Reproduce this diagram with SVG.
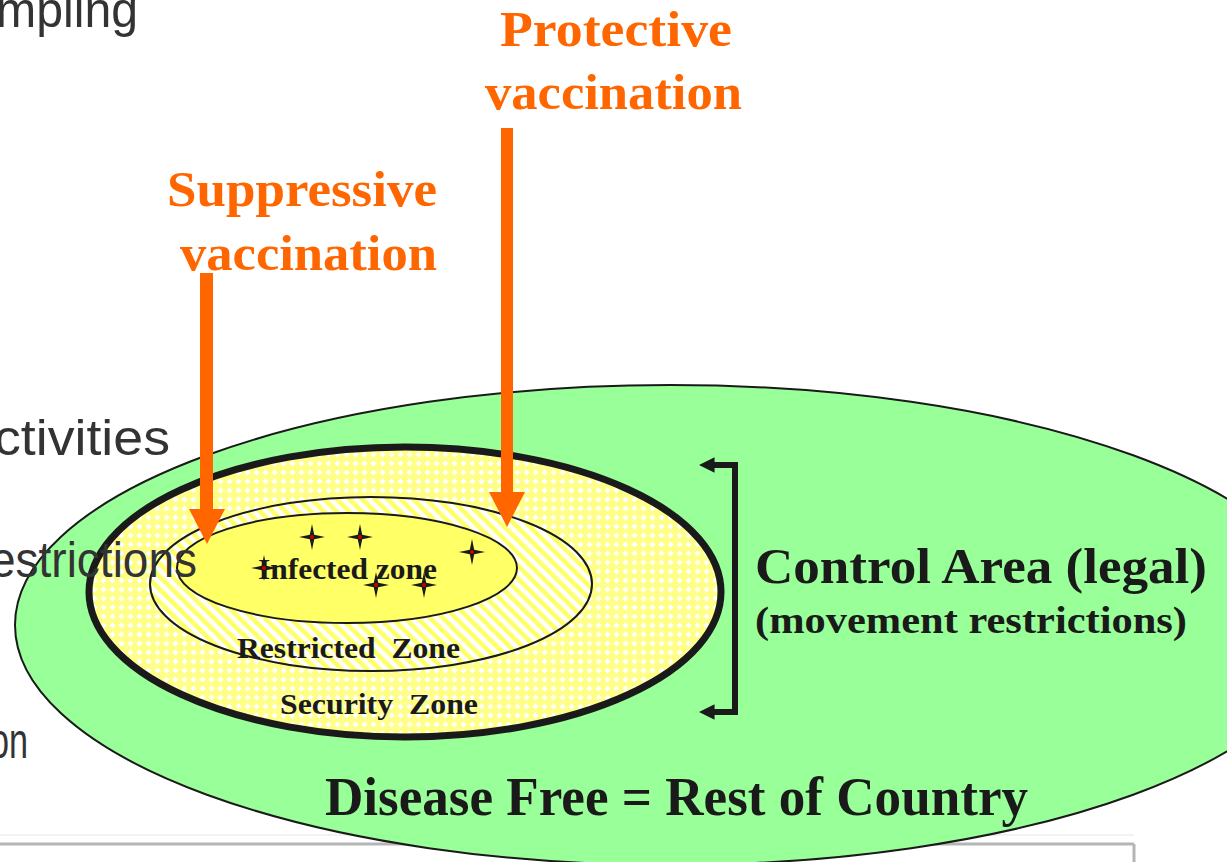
<svg xmlns="http://www.w3.org/2000/svg" width="1227" height="862" viewBox="0 0 1227 862">
<style>
.bg{font-family:"Liberation Sans",Arial,sans-serif;font-size:50px;fill:#333333}
.or{font-family:"Liberation Serif","Times New Roman",serif;font-weight:bold;font-size:51px;fill:#ff6600}
.bk{font-family:"Liberation Serif","Times New Roman",serif;font-weight:bold;fill:#1a1a1a;white-space:pre}
.star{fill:#1a1a1a}
.dot{fill:#cc0000}
.arrow{fill:#ff6600}
</style>
<defs>
<pattern id="cross" width="9" height="9" patternUnits="userSpaceOnUse">
<rect width="9" height="9" fill="#ffff88"/>
<path d="M4.5,1.5 L7.5,4.5 L4.5,7.5 L1.5,4.5 Z" fill="#ffffff"/>
</pattern>
<pattern id="stripe" width="9" height="9" patternUnits="userSpaceOnUse" patternTransform="rotate(-45)">
<rect width="9" height="9" fill="#ffffff"/>
<rect width="4.5" height="9" fill="#ffff66"/>
</pattern>
<g id="star">
<path class="star" d="M0,-13 L2.2,-2.2 L13,0 L2.2,2.2 L0,13 L-2.2,2.2 L-13,0 L-2.2,-2.2 Z"/>
<circle class="dot" r="2"/>
</g>
<marker id="ah" viewBox="0 0 10 10" refX="1" refY="5" markerWidth="2.6" markerHeight="2.8" orient="auto-start-reverse" markerUnits="strokeWidth">
<path d="M0,0 L10,5 L0,10 Z" fill="#1a1a1a"/>
</marker>
</defs>

<g id="slide-frame">
<line x1="0" y1="835" x2="1134" y2="835" stroke="#f2f2f2" stroke-width="2"/>
<line x1="0" y1="844" x2="1134" y2="844" stroke="#b5b5b5" stroke-width="3"/>
<line x1="1134" y1="844" x2="1134" y2="862" stroke="#b5b5b5" stroke-width="3"/>
</g>

<g id="disease-free">
<ellipse cx="670" cy="625" rx="655" ry="240" fill="#99ff99" stroke="#1a1a1a" stroke-width="2"/>
<text class="bk" x="325" y="815" font-size="54" textLength="703" lengthAdjust="spacingAndGlyphs">Disease Free = Rest of Country</text>
</g>

<g id="control-area">
<ellipse cx="405" cy="592" rx="316" ry="145" fill="url(#cross)" stroke="#1a1a1a" stroke-width="7"/>
<text class="bk" x="280" y="714" font-size="30" textLength="198" lengthAdjust="spacingAndGlyphs">Security  Zone</text>
</g>

<g id="restricted-zone">
<ellipse cx="371" cy="584" rx="221" ry="87" fill="url(#stripe)" stroke="#1a1a1a" stroke-width="2"/>
<text class="bk" x="237" y="658" font-size="30" textLength="223" lengthAdjust="spacingAndGlyphs">Restricted  Zone</text>
</g>

<g id="infected-zone">
<ellipse cx="347" cy="568" rx="170" ry="55" fill="#ffff66" stroke="#1a1a1a" stroke-width="2"/>
<text class="bk" x="258" y="579" font-size="30" textLength="179" lengthAdjust="spacingAndGlyphs">Infected zone</text>
<use href="#star" x="312" y="537"/>
<use href="#star" x="360" y="537"/>
<use href="#star" x="472" y="552"/>
<use href="#star" x="264" y="568"/>
<use href="#star" x="376" y="585"/>
<use href="#star" x="424" y="585"/>
</g>

<g id="control-label">
<text class="bk" x="755" y="583" font-size="50" textLength="452" lengthAdjust="spacingAndGlyphs">Control Area (legal)</text>
<text class="bk" x="755" y="633" font-size="38" textLength="432" lengthAdjust="spacingAndGlyphs">(movement restrictions)</text>
</g>

<g id="suppressive-label">
<text class="or" x="167" y="206" textLength="270" lengthAdjust="spacingAndGlyphs">Suppressive</text>
<text class="or" x="180" y="270" textLength="257" lengthAdjust="spacingAndGlyphs">vaccination</text>
</g>

<g id="protective-label">
<text class="or" x="500" y="46" textLength="232" lengthAdjust="spacingAndGlyphs">Protective</text>
<text class="or" x="485" y="109" textLength="257" lengthAdjust="spacingAndGlyphs">vaccination</text>
</g>

<g id="background-text">
<text class="bg" x="-4" y="27" textLength="142" lengthAdjust="spacingAndGlyphs">mpling</text>
<text class="bg" x="-6" y="455" textLength="176" lengthAdjust="spacingAndGlyphs">ctivities</text>
<text class="bg" x="-10" y="577" textLength="207" lengthAdjust="spacingAndGlyphs">estrictions</text>
<text class="bg" x="-10" y="758" textLength="38" lengthAdjust="spacingAndGlyphs">on</text>
</g>

<g id="connectors">
<polygon class="arrow" points="200,273 213,273 213,509 225,509 207,544 189,509 200,509"/>
<polygon class="arrow" points="501,128 513,128 513,492 525,492 507,527 489,492 501,492"/>
<path d="M713,465 L735,465 L735,712 L713,712" fill="none" stroke="#1a1a1a" stroke-width="6" marker-start="url(#ah)" marker-end="url(#ah)"/>
</g>
</svg>
